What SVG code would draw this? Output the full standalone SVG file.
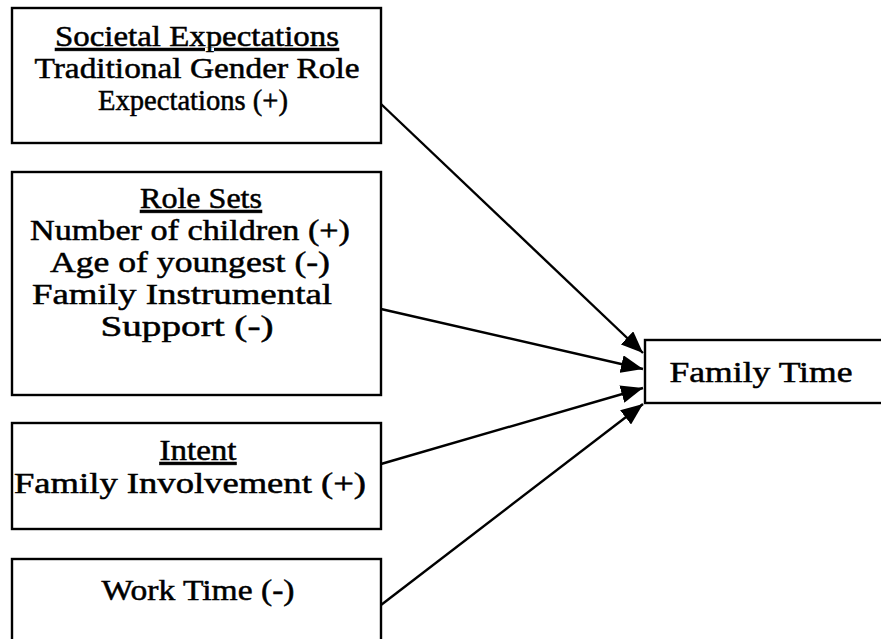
<svg xmlns="http://www.w3.org/2000/svg" width="881" height="639" viewBox="0 0 881 639">
<defs>
<marker id="ah" markerUnits="userSpaceOnUse" markerWidth="24" markerHeight="18" refX="22" refY="9" orient="auto">
<path d="M0,0 L22,9 L0,18 Z" fill="#000"/>
</marker>
<style>
.box{fill:#fff;stroke:#000;stroke-width:2.4}
.t{font-family:"Liberation Serif","Times New Roman",serif;font-size:29px;fill:#000;stroke:#000;stroke-width:0.5;text-anchor:middle}
.u{text-decoration:underline}
.c{stroke:#000;stroke-width:2.4;fill:none;marker-end:url(#ah)}
</style>
</defs>
<rect width="881" height="639" fill="#fff"/>
<g id="societal">
<rect class="box" x="12" y="8" width="369" height="135"/>
<text class="t u" x="197" y="46" textLength="284" lengthAdjust="spacingAndGlyphs">Societal Expectations</text>
<text class="t" x="197" y="78" textLength="325" lengthAdjust="spacingAndGlyphs">Traditional Gender Role</text>
<text class="t" x="193" y="110" textLength="190" lengthAdjust="spacingAndGlyphs">Expectations (+)</text>
</g>
<g id="rolesets">
<rect class="box" x="12" y="172" width="369" height="223"/>
<text class="t u" x="201" y="208" textLength="122" lengthAdjust="spacingAndGlyphs">Role Sets</text>
<text class="t" x="190" y="240" textLength="320" lengthAdjust="spacingAndGlyphs">Number of children (+)</text>
<text class="t" x="190" y="272" textLength="280" lengthAdjust="spacingAndGlyphs">Age of youngest (-)</text>
<text class="t" x="182" y="304" textLength="300" lengthAdjust="spacingAndGlyphs">Family Instrumental</text>
<text class="t" x="187" y="336" textLength="173" lengthAdjust="spacingAndGlyphs">Support (-)</text>
</g>
<g id="intent">
<rect class="box" x="12" y="423" width="369" height="106"/>
<text class="t u" x="198" y="460" textLength="77" lengthAdjust="spacingAndGlyphs">Intent</text>
<text class="t" x="190" y="493" textLength="352" lengthAdjust="spacingAndGlyphs">Family Involvement (+)</text>
</g>
<g id="worktime">
<rect class="box" x="12" y="559" width="369" height="90"/>
<text class="t" x="198" y="600" textLength="193" lengthAdjust="spacingAndGlyphs">Work Time (-)</text>
</g>
<g id="familytime">
<rect class="box" x="645" y="340" width="250" height="63"/>
<text class="t" x="761" y="382" textLength="183" lengthAdjust="spacingAndGlyphs">Family Time</text>
</g>
<g id="connectors">
<line class="c" x1="381" y1="104" x2="643" y2="353"/>
<line class="c" x1="381" y1="309" x2="643" y2="369"/>
<line class="c" x1="381" y1="464" x2="643" y2="388"/>
<line class="c" x1="381" y1="605" x2="643" y2="404"/>
</g>
</svg>
